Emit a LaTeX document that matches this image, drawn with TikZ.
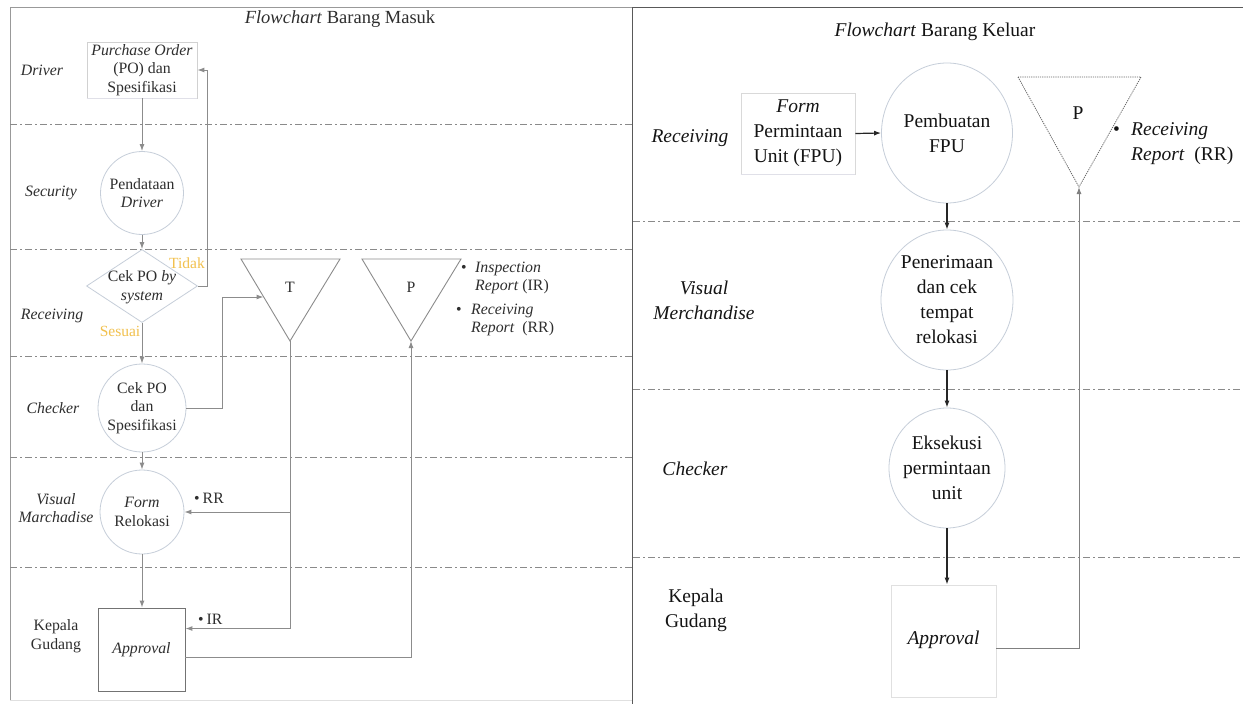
\documentclass[tikz,border=0pt]{standalone}
\usepackage{fontspec}
\setmainfont{Liberation Serif}
\usetikzlibrary{shapes.geometric,shapes.misc,arrows.meta,calc}

\definecolor{conL}{HTML}{8C8C8C}
\definecolor{conR}{HTML}{262626}
\definecolor{ring}{HTML}{C6CED9}
\definecolor{gold}{HTML}{F2C14E}
\definecolor{txtL}{HTML}{2E2E2E}
\definecolor{laneC}{HTML}{8A8A8A}

\tikzset{
  lane/.style={draw=laneC, line width=0.8pt, dash pattern=on 7pt off 3pt on 2pt off 3pt},
  ltxt/.style={font=\fontsize{15.8}{18.5}\selectfont, text=txtL, align=center, inner sep=0pt},
  rtxt/.style={font=\fontsize{19.5}{25}\selectfont, text=black!92, align=center, inner sep=0pt},
  ring/.style={ellipse, draw=ring, line width=0.8pt, inner sep=0pt},
  docL/.style={chamfered rectangle, chamfered rectangle corners=north east,
    chamfered rectangle xsep=5pt, chamfered rectangle ysep=5pt,
    draw=black!18, line width=0.8pt, inner sep=0pt},
  tri/.style={draw=conL, line width=0.9pt, line join=miter},
  conleft/.style={draw=conL, line width=1pt},
  conright/.style={draw=conR, line width=1.2pt},
  tip/.style={-{Latex[length=7pt,width=5pt]}},
  decide/.style={font=\fontsize{15.5}{18}\selectfont, text=gold, inner sep=0pt},
}

\begin{document}
\begin{tikzpicture}[x=1pt,y=-1pt]
\fill[white] (0,0) rectangle (1243,704);
\useasboundingbox (0,0) rectangle (1243,704);

% ---------------- frames ----------------
\draw[black!40, line width=1pt] (10,700) -- (10,7) -- (632,7);
\draw[black!12, line width=0.8pt] (10,700) -- (632,700);
\draw[black!65, line width=1pt] (632.5,7) -- (632.5,704);
\draw[black!65, line width=1pt] (633,7) -- (1243,7);

% ---------------- swimlane separators ----------------
\foreach \yy in {124,249,356,457,567} \draw[lane] (10,\yy) -- (632,\yy);
\foreach \yy in {221,389,557} \draw[lane] (633,\yy) -- (1243,\yy);

% ================= Barang Masuk =================
\node[ltxt, font=\fontsize{18.5}{21}\selectfont] (titleL) at (340,19) {\textit{Flowchart} Barang Masuk};

% lane names
\node[ltxt] (lnDriver) at (42,70) {\textit{Driver}};
\node[ltxt] (lnSecurity) at (51,193) {\textit{Security}};
\node[ltxt] (lnReceiving) at (52,316) {\textit{Receiving}};
\node[ltxt] (lnChecker) at (53,408) {\textit{Checker}};
\node[ltxt] (lnVisual) at (56,508) {\textit{Visual}\\\textit{Marchadise}};
\node[ltxt] (lnKepala) at (56,636) {Kepala\\Gudang};

% flow elements
\node[docL, minimum width=110pt, minimum height=56pt] (po) at (142,70) {};
\node[ltxt] (poT) at (po) {\textit{Purchase Order}\\(PO) dan\\Spesifikasi};
\draw[blue!25!black!12, line width=1.4pt] (po.south west) -- (po.south east);

\node[ring, minimum width=83pt, minimum height=83pt] (pend) at (142,193) {};
\node[ltxt] (pendT) at (pend) {Pendataan\\\textit{Driver}};

\node[diamond, draw=ring, line width=0.8pt, minimum width=111pt, minimum height=73pt, inner sep=0pt] (cek) at (142,286) {};
\node[ltxt] (cekT) at (142,287) {Cek PO \textit{by}\\\textit{system}};

\node[ring, minimum width=88pt, minimum height=88pt] (spek) at (142,408) {};
\node[ltxt] (spekT) at (spek) {Cek PO\\dan\\Spesifikasi};

\node[ring, minimum width=84pt, minimum height=84pt] (relok) at (142,512) {};
\node[ltxt] (relokT) at (relok) {\textit{Form}\\Relokasi};

\node[draw=black!55, line width=0.9pt, minimum width=87pt, minimum height=83pt, inner sep=0pt] (appL) at (141.5,649.5) {};
\node[ltxt] (appLT) at (141.5,650) {\textit{Approval}};

% storage triangles
\draw[tri] (241,259) -- (340,259) -- (290,341) -- cycle;
\node[ltxt] (tT) at (290,287) {T};
\coordinate (Tin) at (263.5,297);
\coordinate (Tapex) at (290,341);

\draw[tri] (362,259) -- (461,259) -- (411,341) -- cycle;
\node[ltxt] (pT) at (411,287) {P};
\coordinate (Papex) at (411,341);

\node[ltxt, anchor=west] (bulIR) at (461,269) {\textbullet};
\node[ltxt, anchor=west, align=left] (docIR) at (475,278) {\textit{Inspection}\\\textit{Report} (IR)};
\node[ltxt, anchor=west] (bulRR) at (456,311) {\textbullet};
\node[ltxt, anchor=west, align=left] (docRR) at (471,320) {\textit{Receiving}\\\textit{Report}\ \ (RR)};

% decisions
\node[decide] (tidak) at (187,263) {Tidak};
\node[decide] (sesuai) at (120,331) {Sesuai};

% connectors
\draw[conleft,tip] (po) -- (pend);
\draw[conleft,tip] (pend) -- (cek);
\draw[conleft,tip] (cek) -- (spek);
\draw[conleft,tip] (spek) -- (relok);
\draw[conleft,tip] (relok) -- (appL.north -| relok);
\coordinate (backUp) at (207,286);
\draw[conleft,tip] (cek.east) -- (backUp) |- (po.east);
\coordinate (toT) at (222,297);
\draw[conleft,tip] (spek.east) -| (toT) -- (Tin);
\coordinate (irIn) at ($(appL.north east)!0.25!(appL.south east)$);
\draw[conleft,tip] (Tapex) |- (irIn);
\draw[conleft,tip] (Tapex |- relok.east) -- (relok.east);
\coordinate (apOut) at ($(appL.north east)!0.59!(appL.south east)$);
\draw[conleft,tip] (apOut) -| (Papex);

\node[ltxt, anchor=west] (lblRR) at (194,498) {\textbullet\hspace{3pt}RR};
\node[ltxt, anchor=west] (lblIR) at (198,619) {\textbullet\hspace{3pt}IR};

% ================= Barang Keluar =================
\node[rtxt] (titleR) at (935,32) {\textit{Flowchart} Barang Keluar};

\node[rtxt] (rnReceiving) at (690,138) {\textit{Receiving}};
\node[rtxt] (rnVisual) at (704,300) {\textit{Visual}\\\textit{Merchandise}};
\node[rtxt] (rnChecker) at (695,469) {\textit{Checker}};
\node[rtxt] (rnKepala) at (696,610) {Kepala\\Gudang};

\node[docL, minimum width=114pt, minimum height=81pt, draw=black!15] (fpu) at (798,133.5) {};
\node[rtxt] (fpuT) at (fpu) {\textit{Form}\\Permintaan\\Unit (FPU)};
\draw[blue!25!black!12, line width=1.4pt] (fpu.south west) -- (fpu.south east);

\node[ring, minimum width=131pt, minimum height=140pt] (buat) at (947,133) {};
\node[rtxt] (buatT) at (buat) {Pembuatan\\FPU};

\node[ring, minimum width=132pt, minimum height=140pt] (terima) at (947,300) {};
\node[rtxt] (terimaT) at (terima) {Penerimaan\\dan cek\\tempat\\relokasi};

\node[ring, minimum width=116pt, minimum height=120pt] (eks) at (947,468) {};
\node[rtxt] (eksT) at (eks) {Eksekusi\\permintaan\\unit};

\node[draw=black!12, line width=0.8pt, minimum width=105pt, minimum height=112pt, inner sep=0pt] (appR) at (943.5,641) {};
\node[rtxt] (appRT) at (943.5,640) {\textit{Approval}};

\draw[draw=black!60, line width=0.8pt, dash pattern=on 1.2pt off 1pt] (1018,77) -- (1141,77) -- (1079,187) -- cycle;
\node[rtxt] (pR) at (1078,113) {P};
\coordinate (PRapex) at (1079,187);

\node[rtxt, anchor=west] (bulR) at (1113,131) {\textbullet};
\node[rtxt, anchor=west, align=left] (docRRR) at (1131,143.5) {\textit{Receiving}\\\textit{Report}\ \ (RR)};

\draw[conright,tip] (fpu.east) -- (buat.west);
\draw[conright,tip] (buat) -- (terima);
\draw[conright,tip] (terima) -- (eks);
\draw[conright,tip] (eks.south) -- (eks.south |- appR.north);
\coordinate (apROut) at ($(appR.north east)!0.57!(appR.south east)$);
\draw[black!50, line width=1pt, tip] (apROut) -| (PRapex);

\end{tikzpicture}
\end{document}
